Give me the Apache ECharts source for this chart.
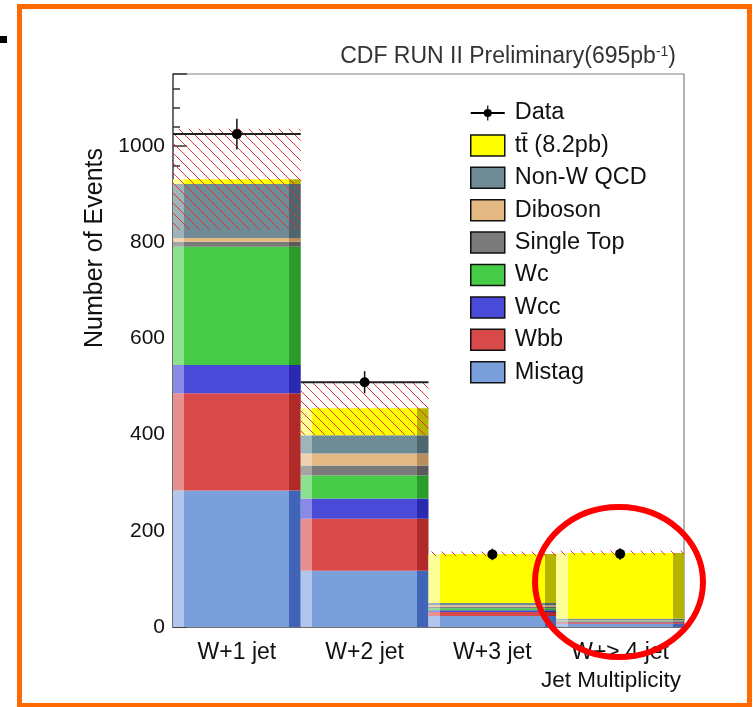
<!DOCTYPE html>
<html>
<head>
<meta charset="utf-8">
<script src="https://cdn.jsdelivr.net/npm/echarts@6/dist/echarts.min.js"></script>
<style>
  html, body { margin: 0; padding: 0; background: #ffffff; }
  #chart { width: 754px; height: 707px; }
</style>
</head>
<body>
<div id="chart"></div>
<script>
// Jet multiplicity bins
const categories = ['W+1 jet', 'W+2 jet', 'W+3 jet', 'W+\u2265 4 jet'];

// Expected event counts per process, stacked bottom to top
const mistag    = [284, 117, 23, 7];
const wbb       = [202, 108,  8, 3];
const wcc       = [ 59,  42,  4, 1];
const wc        = [246,  48,  4, 1];
const singleTop = [ 10,  21,  3, 1];
const diboson   = [  8,  25,  3, 1];
const nonWQCD   = [112,  38,  5, 3];
const ttbar     = [ 10,  56, 102, 137];

// Uncertainty on the total expectation (hatched band)
const totalUnc  = [105, 55, 5, 5];

// Observed data and its statistical error
const dataCounts = [1025, 509, 151, 152];
const dataErrors = [32, 23, 12, 12];

// Y-axis tick labels
const yTicks = [0, 200, 400, 600, 800, 1000];

const FONT = '"Liberation Sans", Arial, Helvetica, sans-serif';

// stack order (bottom first) with fill colours: [base, left highlight, right shadow]
const processes = [
  { name: 'Mistag',     values: mistag,    c: ['#7b9fda', '#b0c6ea', '#3f64b8'] },
  { name: 'Wbb',        values: wbb,       c: ['#d84a4a', '#e89090', '#b02a2a'] },
  { name: 'Wcc',        values: wcc,       c: ['#4a4ad8', '#8a8ae6', '#2a2ab0'] },
  { name: 'Wc',         values: wc,        c: ['#47cc47', '#8de08d', '#2a9c2a'] },
  { name: 'Single Top', values: singleTop, c: ['#7b7b7b', '#a5a5a5', '#5a5a5a'] },
  { name: 'Diboson',    values: diboson,   c: ['#e3b883', '#eed3b0', '#b88e5c'] },
  { name: 'Non-W QCD',  values: nonWQCD,   c: ['#6f8b95', '#9fb3ba', '#4e666e'] },
  { name: 'tt\u0304 (8.2pb)', values: ttbar, c: ['#ffff00', '#ffff99', '#b5b500'] }
];

const totals = categories.map((_, i) => processes.reduce((s, p) => s + p.values[i], 0));

// diagonal red hatch texture
const hatch = document.createElement('canvas');
hatch.width = 10; hatch.height = 10;
(function () {
  const g = hatch.getContext('2d');
  g.strokeStyle = 'rgba(225,45,45,0.95)';
  g.lineWidth = 1;
  g.beginPath();
  g.moveTo(-1, -1); g.lineTo(11, 11);
  g.moveTo(-1, 9);  g.lineTo(1, 11);
  g.moveTo(9, -1);  g.lineTo(11, 1);
  g.stroke();
})();

function shaded(c) {
  return new echarts.graphic.LinearGradient(0, 0, 1, 0, [
    { offset: 0, color: c[1] }, { offset: 0.09, color: c[1] },
    { offset: 0.09, color: c[0] }, { offset: 0.91, color: c[0] },
    { offset: 0.91, color: c[2] }, { offset: 1, color: c[2] }
  ]);
}

const barSeries = processes.map(p => ({
  name: p.name,
  type: 'bar',
  stack: 'mc',
  barCategoryGap: 0,
  barGap: 0,
  data: p.values,
  itemStyle: { color: shaded(p.c) },
  emphasis: { disabled: true },
  z: 2
}));

const bandSeries = {
  name: 'Uncertainty',
  type: 'custom',
  data: categories.map((_, i) => [i, totals[i] - totalUnc[i], totals[i] + totalUnc[i]]),
  renderItem: function (params, api) {
    const lo = api.coord([api.value(0), api.value(1)]);
    const hi = api.coord([api.value(0), api.value(2)]);
    const w = api.size([1, 0])[0];
    return {
      type: 'rect',
      shape: { x: lo[0] - w / 2, y: hi[1], width: w, height: lo[1] - hi[1] },
      style: { fill: { image: hatch, repeat: 'repeat' }, stroke: null }
    };
  },
  z: 3
};

const dataSeries = {
  name: 'Data',
  type: 'custom',
  data: categories.map((_, i) => [i, dataCounts[i], dataErrors[i]]),
  renderItem: function (params, api) {
    const i = api.value(0), v = api.value(1), e = api.value(2);
    const p = api.coord([i, v]);
    const up = api.coord([i, v + e]);
    const dn = api.coord([i, v - e]);
    const w = api.size([1, 0])[0];
    const kids = [
      { type: 'line', shape: { x1: p[0], y1: up[1], x2: p[0], y2: dn[1] },
        style: { stroke: '#111', lineWidth: 1.5 } },
      { type: 'circle', shape: { cx: p[0], cy: p[1], r: 5 }, style: { fill: '#000' } }
    ];
    if (i < 2) {
      kids.unshift({ type: 'line', shape: { x1: p[0] - w / 2, y1: p[1], x2: p[0] + w / 2, y2: p[1] },
        style: { stroke: '#222', lineWidth: 2 } });
    }
    return { type: 'group', children: kids };
  },
  z: 4
};

const legendData = [{
  name: 'Data',
  // horizontal bar, short vertical error tick and a solid dot
  icon: 'path://M0,9.6 L34,9.6 L34,11.4 L0,11.4 Z M16.4,3 L17.6,3 L17.6,18 L16.4,18 Z M13,10.5 A4,4 0 1,1 21,10.5 A4,4 0 1,1 13,10.5 Z',
  itemStyle: { color: '#000', borderWidth: 0 }
}].concat(processes.slice().reverse().map(p => ({
  name: p.name,
  icon: 'rect',
  itemStyle: { color: p.c[0], borderColor: '#111', borderWidth: 1.5 }
})));

const chart = echarts.init(document.getElementById('chart'), null, { renderer: 'canvas' });
chart.setOption({
  backgroundColor: '#ffffff',
  animation: false,
  textStyle: { fontFamily: FONT },
  grid: {
    left: 173, right: 70, top: 74, bottom: 80,
    show: true, borderColor: '#808080', borderWidth: 1.2
  },
  legend: {
    data: legendData,
    orient: 'vertical',
    left: 465, top: 96,
    itemWidth: 34, itemHeight: 21, itemGap: 8.4,
    textStyle: { fontSize: 23.5, color: '#111', fontFamily: FONT, padding: [0, 0, 0, 5] },
    selectedMode: false
  },
  xAxis: {
    type: 'category',
    data: categories,
    boundaryGap: true,
    axisLine: { lineStyle: { color: '#555', width: 1.5 } },
    axisTick: { inside: true, alignWithLabel: true, length: 12, lineStyle: { color: '#333', width: 1.5 } },
    axisLabel: { interval: 0, hideOverlap: false, fontSize: 23, color: '#111', margin: 14, fontFamily: FONT },
    splitLine: { show: false }
  },
  yAxis: {
    type: 'value',
    min: 0, max: 1150, interval: 200,
    axisLine: { show: true, lineStyle: { color: '#555', width: 1.5 } },
    axisTick: { show: true, inside: true, length: 14, lineStyle: { color: '#333', width: 1.5 } },
    minorTick: { show: true, splitNumber: 5, length: 7, lineStyle: { color: '#333', width: 1.5 } },
    axisLabel: {
      fontSize: 21, color: '#111', margin: 8, fontFamily: FONT,
      showMaxLabel: false,
      formatter: v => (yTicks.indexOf(v) >= 0 ? String(v) : '')
    },
    splitLine: { show: false }
  },
  series: barSeries.concat([bandSeries, dataSeries]),
  graphic: [
    { type: 'rect', shape: { x: 19.5, y: 6.5, width: 730, height: 699 },
      style: { fill: null, stroke: '#ff6a00', lineWidth: 5 }, z: 100 },
    { type: 'rect', shape: { x: 0, y: 36, width: 7, height: 7 }, style: { fill: '#000' }, z: 100 },
    { type: 'text', right: 78, top: 45,
      style: {
        text: '{m|CDF RUN II Preliminary(695pb}{s|-1}{m|)}',
        rich: {
          m: { fontSize: 23, fill: '#333', fontFamily: FONT },
          s: { fontSize: 14, fill: '#333', fontFamily: FONT, verticalAlign: 'top', padding: [0, 0, 10, 0] }
        }
      }, z: 100 },
    { type: 'text', x: 95, y: 248, rotation: Math.PI / 2,
      style: { text: 'Number of Events', fontSize: 25, fill: '#111', fontFamily: FONT,
        align: 'center', verticalAlign: 'middle' }, z: 100 },
    { type: 'text', x: 681, y: 681,
      style: { text: 'Jet Multiplicity', fontSize: 22.5, fill: '#111', fontFamily: FONT,
        align: 'right', verticalAlign: 'middle' }, z: 100 },
    { type: 'ellipse', shape: { cx: 619, cy: 582, rx: 84, ry: 75 },
      style: { fill: null, stroke: '#ff0000', lineWidth: 6 }, z: 110 }
  ]
});
</script>
</body>
</html>
